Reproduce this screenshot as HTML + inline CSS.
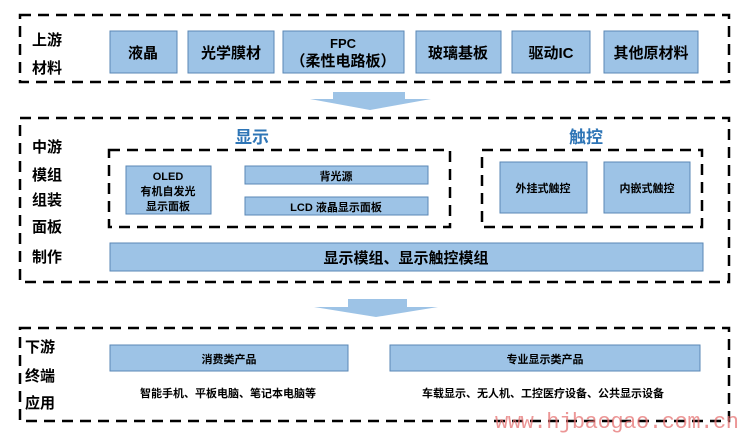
<!DOCTYPE html>
<html><head><meta charset="utf-8"><style>
html,body{margin:0;padding:0;background:#fff;}
svg{display:block;}
text{font-family:"Liberation Sans","Noto Sans CJK SC",sans-serif;font-weight:bold;}
</style></head><body>
<svg width="741" height="445" viewBox="0 0 741 445" xmlns="http://www.w3.org/2000/svg">
<g fill="none" stroke="#000" stroke-width="2.5" stroke-dasharray="11,7">
<rect x="20" y="15" width="709" height="67"/>
<rect x="20" y="118" width="709" height="164"/>
<rect x="109" y="150" width="341" height="77"/>
<rect x="482" y="150" width="220" height="77"/>
<rect x="20" y="328" width="709" height="93"/>
</g>
<g fill="#9dc3e6" stroke="#5a87b5" stroke-width="1">
<rect x="110" y="31" width="67" height="42"/>
<rect x="188" y="31" width="86" height="42"/>
<rect x="283" y="31" width="121" height="42"/>
<rect x="416" y="31" width="85" height="42"/>
<rect x="512" y="31" width="78" height="42"/>
<rect x="604" y="31" width="94" height="42"/>
<rect x="126" y="166" width="85" height="48"/>
<rect x="245" y="166" width="183" height="18"/>
<rect x="245" y="197" width="183" height="18"/>
<rect x="500" y="162" width="87" height="51"/>
<rect x="604" y="162" width="86" height="51"/>
<rect x="110" y="243" width="593" height="28"/>
<rect x="110" y="345" width="238" height="26"/>
<rect x="390" y="345" width="310" height="26"/>
</g>
<polygon points="333,92 405,92 405,99 431,99 370,110 310,99 333,99" fill="#9dc3e6"/>
<polygon points="348,299 407,299 407,307 438,307 376,317 314,307 348,307" fill="#9dc3e6"/>
<g font-size="15" fill="#000" text-anchor="middle">
<text x="47" y="45">上游</text><text x="47" y="73">材料</text>
<text x="143" y="58">液晶</text>
<text x="231" y="58">光学膜材</text>
<text x="343" y="48" font-size="13">FPC</text>
<text x="343" y="66">（柔性电路板）</text>
<text x="458" y="58">玻璃基板</text>
<text x="551" y="58">驱动IC</text>
<text x="651" y="58">其他原材料</text>
<text x="47" y="152">中游</text><text x="47" y="180">模组</text><text x="47" y="205">组装</text><text x="47" y="232">面板</text><text x="47" y="262">制作</text>
<text x="406" y="263">显示模组、显示触控模组</text>
<text x="40" y="352">下游</text><text x="40" y="381">终端</text><text x="40" y="408">应用</text>
</g>
<g font-size="17" fill="#2e75b6" text-anchor="middle">
<text x="252" y="143">显示</text><text x="586" y="143">触控</text>
</g>
<g font-size="11" fill="#000" text-anchor="middle">
<text x="168" y="180">OLED</text>
<text x="168" y="195">有机自发光</text>
<text x="168" y="210">显示面板</text>
<text x="336" y="180">背光源</text>
<text x="336" y="211">LCD 液晶显示面板</text>
<text x="543" y="192">外挂式触控</text>
<text x="647" y="192">内嵌式触控</text>
<text x="229" y="363">消费类产品</text>
<text x="545" y="363">专业显示类产品</text>
<text x="228" y="397">智能手机、平板电脑、笔记本电脑等</text>
<text x="543" y="397">车载显示、无人机、工控医疗设备、公共显示设备</text>
</g>
<text x="495" y="428" font-size="22" fill="#e57373" fill-opacity="0.75" style="font-family:'Liberation Mono',monospace;font-weight:normal" textLength="244">www.hjbaogao.com.cn</text>
</svg>
</body></html>
